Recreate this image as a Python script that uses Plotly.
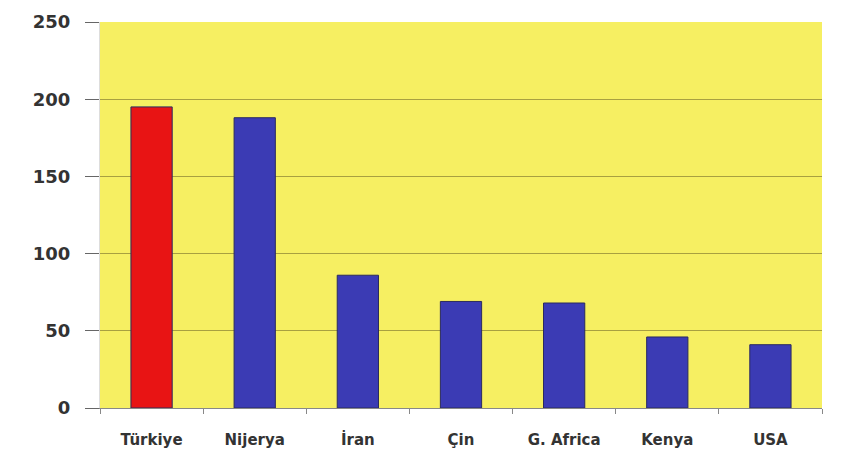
import plotly.graph_objects as go

countries = ["Türkiye", "Nijerya", "İran", "Çin", "G. Africa", "Kenya", "USA"]
values = [195, 188, 86, 69, 68, 46, 41]
bar_colors = ["#e81414", "#3b3bb4", "#3b3bb4", "#3b3bb4", "#3b3bb4", "#3b3bb4", "#3b3bb4"]
y_ticks = [0, 50, 100, 150, 200, 250]

fig = go.Figure(go.Bar(
    x=countries, y=values,
    marker=dict(color=bar_colors, line=dict(color="#2a2a60", width=1)),
    width=0.4,
))

# page body has an 8px margin, so the figure is sized to fit inside it
fig.update_layout(
    width=830, height=453,
    margin=dict(l=92, r=16, t=14, b=53, autoexpand=False),
    plot_bgcolor="#f6ef62", paper_bgcolor="white",
    font=dict(family="DejaVu Sans, Arial, sans-serif", color="#333333"),
    showlegend=False,
)
fig.update_yaxes(
    range=[0, 250], tickvals=y_ticks,
    ticks="outside", ticklen=14, tickcolor="#666666",
    tickfont=dict(size=18, color="#333333", family="DejaVu Sans, Arial, sans-serif", weight="bold"),
    ticklabelstandoff=11,
    gridcolor="#a8a040", gridwidth=1,
    showline=True, linecolor="#dddddd", zeroline=False, automargin=False,
)
fig.update_xaxes(
    tickson="boundaries", ticks="outside", ticklen=5, tickcolor="#888888",
    tickfont=dict(size=15, color="#333333", family="DejaVu Sans, Arial, sans-serif", weight="bold"),
    ticklabelstandoff=18,
    showline=True, linecolor="#888888", automargin=False,
)

fig.write_html("out.html")
